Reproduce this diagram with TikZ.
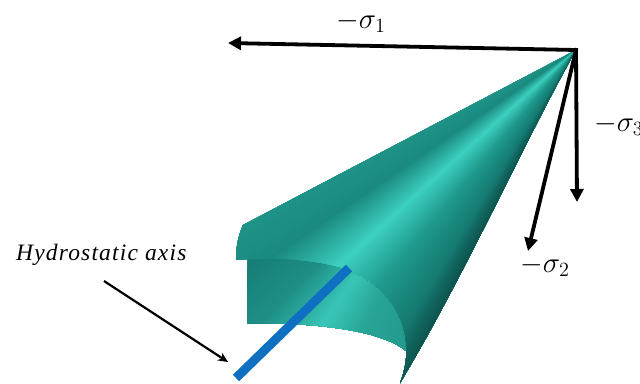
\documentclass[tikz,border=0pt]{standalone}
\usepackage{graphicx}
\usepackage{fontspec}
\setmainfont{Liberation Serif}[LetterSpace=5]
\usetikzlibrary{arrows.meta,calc}
\definecolor{hi}{HTML}{3DD0C0}
\definecolor{axisblue}{HTML}{0F6FC0}
\tikzset{
  force/.style={line width=3.8pt,line cap=rect,-{Triangle[length=13pt,width=13pt]}},
  pointer/.style={line width=2.2pt,-{Stealth[length=10pt,width=9pt]}},
  mathlabel/.style={inner sep=0pt,font=\fontsize{20.74}{24}\selectfont},
  textlabel/.style={inner sep=0pt,font=\fontsize{23.5}{26}\selectfont\itshape}
}
\newcommand{\bigmath}[1]{\scalebox{1.4}{$#1$}}
\newcommand{\mixstop}[5]{% angle, a0, a1, colA, colB
  \ifdim #1pt<#2pt\relax\else\ifdim #1pt<#3pt\relax
    \pgfmathsetmacro{\pp}{100*(#3-#1)/(#3-#2)}%
    \colorlet{fancol}{#4!\pp!#5}%
  \fi\fi}
\definecolor{ca}{HTML}{22998D}
\definecolor{cb}{HTML}{1A8A7F}
\definecolor{cc}{HTML}{1F9A8D}
\definecolor{cd}{HTML}{157A72}
\definecolor{ce}{HTML}{0A4440}
\definecolor{ia}{HTML}{11706A}
\definecolor{ib}{HTML}{1E8F85}
\definecolor{ic}{HTML}{39C6B7}
\definecolor{id}{HTML}{28A596}
\definecolor{ie}{HTML}{1F9085}
\begin{document}
\begin{tikzpicture}[x=1pt,y=-1pt]
\useasboundingbox (0,0) rectangle (640,383);
\coordinate (apex) at (576,50);
\coordinate (sigA) at (228,43);
\coordinate (sigB) at (528,251);
\coordinate (sigC) at (577,202);
\coordinate (innerapex) at (459,123);
% inner surface
\begin{scope}
\clip (248,250) -- (345,252) -- (400,280) -- (420,330) -- (410,352) -- (405,350)
  .. controls (385,335) and (340,323) .. (247,323) -- cycle;
\foreach \a in {25,25.5,...,85}{
  \colorlet{fancol}{ia}
  \mixstop{\a}{24}{45}{ia}{ib}
  \mixstop{\a}{45}{55.8}{ib}{ic}
  \mixstop{\a}{55.8}{65}{ic}{id}
  \mixstop{\a}{65}{86}{id}{ie}
  \fill[fancol] (innerapex) -- ($(innerapex)+({-600*cos(\a)},{600*sin(\a)})$) -- ($(innerapex)+({-600*cos(89)},{600*sin(89)})$) -- cycle;
}
\end{scope}
% outer cone surface
\begin{scope}
\clip (apex) -- (243,225) .. controls (238,236) and (236,248) .. (236,260)
  .. controls (275,256) and (315,260) .. (343,268)
  .. controls (375,278) and (400,305) .. (405,335)
  .. controls (408,352) and (406,368) .. (400,383)
  .. controls (465,275) and (525,140) .. (apex) -- cycle;
\foreach \a in {24,24.5,...,66}{
  \colorlet{fancol}{ca}
  \mixstop{\a}{23}{34}{ca}{cb}
  \mixstop{\a}{34}{42}{cb}{hi}
  \mixstop{\a}{42}{50}{hi}{cc}
  \mixstop{\a}{50}{58}{cc}{cd}
  \mixstop{\a}{58}{64}{cd}{ce}
  \fill[fancol] (apex) -- ($(apex)+({-600*cos(\a)},{600*sin(\a)})$) -- ($(apex)+({-600*cos(70)},{600*sin(70)})$) -- cycle;
}
\end{scope}
% hydrostatic axis bar
\coordinate (barTop) at (349,268);
\coordinate (barEnd) at (236,378);
\draw[axisblue,line width=9pt] (barTop) -- (barEnd);
% force arrows
\draw[force] (apex) -- (sigA);
\draw[force] (apex) -- (sigB);
\draw[force] (apex) -- (sigC);
% labels
\node[mathlabel] (l1) at (361,22) {\bigmath{-\sigma_1}};
\node[mathlabel,anchor=west] (l3) at (594,125) {\bigmath{-\sigma_3}};
\node[mathlabel] (l2) at (545,266) {\bigmath{-\sigma_2}};
\node[textlabel,anchor=west] (lh) at (16,255) {Hydrostatic axis};
\coordinate (hTail) at (104,281);
\coordinate (hTip) at (228,362);
\draw[pointer] (hTail) -- (hTip);
\end{tikzpicture}
\end{document}
